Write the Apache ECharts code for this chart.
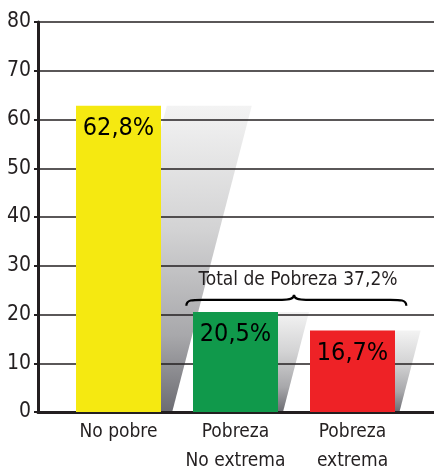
<!DOCTYPE html>
<html>
<head>
<meta charset="utf-8">
<script src="https://cdn.jsdelivr.net/npm/echarts@6/dist/echarts.min.js"></script>
<style>
  html, body { margin: 0; padding: 0; background: #fff; }
  #chart { width: 434px; height: 470px; }
</style>
</head>
<body>
<div id="chart"></div>
<script>
// data
const categories = ['No pobre', 'Pobreza\nNo extrema', 'Pobreza\nextrema'];
const values = [62.8, 20.5, 16.7];
const barColors = ['#f5e911', '#10994b', '#ee2226'];
const yTicks = [0, 10, 20, 30, 40, 50, 60, 70, 80];
const braceText = 'Total de Pobreza 37,2%';
const braceLevel = 22.4;   // y value of brace
const textLevel = 27.0;    // y value of brace caption

const FONT = "'DejaVu Sans Condensed', 'Liberation Sans Narrow', 'Arial Narrow', sans-serif";
const INK = '#231f20';
const BAR_W = 85;

const fmt = v => String(v).replace('.', ',') + '%';

const chart = echarts.init(document.getElementById('chart'));

// shadow behind each bar (skewed copy of the bar)
const renderShadow = (params, api) => {
  const idx = api.value(0);
  const base = api.coord([idx, 0]);
  const top = api.coord([idx, api.value(1)]);
  const h = base[1] - top[1];
  const half = BAR_W / 2;
  const bo = 2 + 0.03 * h;
  const to = bo + 0.26 * h;
  return {
    type: 'polygon',
    shape: {
      points: [
        [base[0] - half + bo, base[1]],
        [base[0] + half + bo, base[1]],
        [base[0] + half + to, top[1]],
        [base[0] - half + to, top[1]]
      ]
    },
    style: {
      fill: new echarts.graphic.LinearGradient(0, 0, 0, 1, [
        { offset: 0, color: '#f3f3f3' },
        { offset: 0.4, color: '#d3d3d4' },
        { offset: 0.75, color: '#a8a8ab' },
        { offset: 1, color: '#6c6c72' }
      ])
    }
  };
};

// curly brace over the two poverty bars
const renderBrace = (params, api) => {
  const a = api.coord([1, api.value(1)]);
  const b = api.coord([2, api.value(1)]);
  const band = b[0] - a[0];
  const m = (a[0] + b[0]) / 2;
  const x0 = m - band * 0.92;
  const x1 = m + band * 0.96;
  const y = a[1];
  const t = y - 8;
  const path =
    `M${x0},${y + 3} C${x0},${y - 3} ${x0 + 6},${y - 3} ${x0 + 16},${y - 3} ` +
    `L${m - 12},${y - 3} C${m - 4},${y - 3} ${m},${y - 4} ${m},${t} ` +
    `C${m},${y - 4} ${m + 4},${y - 3} ${m + 12},${y - 3} ` +
    `L${x1 - 16},${y - 3} C${x1 - 6},${y - 3} ${x1},${y - 3} ${x1},${y + 3}`;
  const ty = api.coord([1, api.value(2)])[1];
  return {
    type: 'group',
    children: [
      {
        type: 'path',
        shape: { pathData: path },
        style: { fill: 'none', stroke: '#000', lineWidth: 2.2 }
      },
      {
        type: 'text',
        x: m + 4,
        y: ty,
        style: {
          text: braceText,
          font: `19px ${FONT}`,
          fill: INK,
          align: 'center',
          verticalAlign: 'middle'
        }
      }
    ]
  };
};

const option = {
  animation: false,
  grid: [
    { left: 38, right: 0, top: 22, bottom: 58, outerBoundsMode: 'none' },
    { left: 60, width: 351, top: 22, bottom: 58, outerBoundsMode: 'none' }
  ],
  xAxis: [
    {
      type: 'value', gridIndex: 0, min: 0, max: 1,
      axisLine: { show: true, onZero: false, lineStyle: { color: INK, width: 3 } },
      axisTick: { show: false }, axisLabel: { show: false }, splitLine: { show: false }
    },
    {
      type: 'category', gridIndex: 1, data: categories,
      axisLine: { show: false }, axisTick: { show: false },
      axisLabel: {
        interval: 0,
        color: INK, fontFamily: FONT, fontSize: 19, lineHeight: 29, margin: 6
      }
    }
  ],
  yAxis: [
    {
      type: 'value', gridIndex: 0, min: 0, max: 80, interval: 10,
      axisLine: { show: true, lineStyle: { color: INK, width: 3 } },
      axisTick: { show: true, length: 4, lineStyle: { color: INK, width: 2 } },
      axisLabel: {
        color: INK, fontFamily: FONT, fontSize: 21, margin: 7,
        padding: [6, 0, 0, 0],
        formatter: v => (yTicks.includes(v) ? String(v) : '')
      },
      splitLine: { show: true, lineStyle: { color: INK, width: 1.5 } }
    },
    {
      type: 'value', gridIndex: 1, min: 0, max: 80, interval: 10, show: false,
      splitLine: { show: false }
    }
  ],
  series: [
    {
      type: 'custom',
      xAxisIndex: 1, yAxisIndex: 1,
      z: -1,
      renderItem: renderShadow,
      data: values.map((v, i) => [i, v]),
      silent: true
    },
    {
      type: 'bar',
      xAxisIndex: 1, yAxisIndex: 1,
      barWidth: BAR_W,
      z: 3,
      data: values.map((v, i) => ({ value: v, itemStyle: { color: barColors[i] } })),
      label: {
        show: true,
        position: 'insideTop',
        distance: 10,
        color: '#000',
        fontFamily: FONT,
        fontSize: 25,
        formatter: p => fmt(p.value)
      }
    },
    {
      type: 'custom',
      xAxisIndex: 1, yAxisIndex: 1,
      z: 4,
      renderItem: renderBrace,
      data: [[1.5, braceLevel, textLevel]],
      silent: true
    }
  ]
};

chart.setOption(option);
</script>
</body>
</html>
